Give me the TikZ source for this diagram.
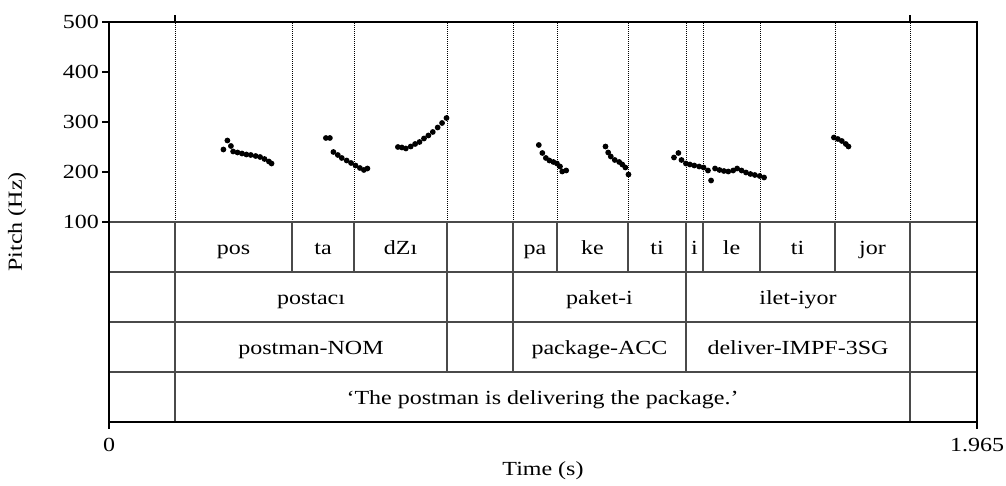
\documentclass[tikz,border=0pt]{standalone}
\usepackage{fontspec}
\setmainfont{Liberation Serif}[FakeStretch=1.2]
\definecolor{tiergray}{HTML}{4A4A4A}

\begin{document}
\begin{tikzpicture}[x=1pt,y=1pt,
  lab/.style={font=\fontsize{20}{22}\selectfont, inner sep=0pt},
  frameline/.style={line width=1.7pt, line cap=rect},
  tierline/.style={draw=tiergray, line width=1.2pt},
  syldots/.style={draw=black, line width=0.7pt, dash pattern=on 1pt off 1pt},
  pitchdot/.style={fill=black}]
\useasboundingbox (0,0) rectangle (1006,486);

% dotted syllable boundaries in the pitch panel
\foreach \x in {175,292,354,447,513,557,628,686,703,760,835,910}
  \draw[syldots] (\x,264) -- (\x,464);

% tiers
\foreach \y in {214,164,114}
  \draw[tierline] (109,\y) -- (977,\y);
\draw[tierline] (109,264) -- (977,264);
\foreach \x in {292,354,447,513,557,628,686,703,760,835}
  \draw[tierline] (\x,264) -- (\x,214);
\foreach \x in {447,513,686}
  \draw[tierline] (\x,214) -- (\x,114);
\foreach \x in {175,910}
  \draw[tierline] (\x,264) -- (\x,64);

% frame, ticks
\draw[frameline] (109,64) rectangle (977,464);
\foreach \x in {175,910}
  \draw[line width=1.2pt] (\x,464) -- (\x,471);
\foreach \y/\hz in {264/100,314/200,364/300,414/400,464/500} {
  \draw[line width=1.2pt] (102,\y) -- (109,\y);
  \node[lab, anchor=base east] (hz\hz) at (99,\y-6.6) {\hz};
}
\draw[line width=1.2pt] (109,64) -- (109,57);
\draw[line width=1.2pt] (977,64) -- (977,57);
\node[lab, anchor=base] (t0) at (109,34) {0};
\node[lab, anchor=base] (tend) at (977,34) {1.965};
\node[lab, anchor=base] (xlab) at (543,10) {Time (s)};
\node[lab, rotate=90] (ylab) at (17,264) {Pitch (Hz)};

% syllables
\foreach \x/\s [count=\i] in {233.5/pos, 323/ta, 400.5/dZı, 535/pa, 592.5/ke,
    657/ti, 694.5/i, 731.5/le, 797.5/ti, 872.5/jor}
  \node[lab, anchor=base] (syl\i) at (\x,231) {\s};
% words and glosses
\node[lab, anchor=base] (postaci) at (311,181) {postacı};
\node[lab, anchor=base] (paketi) at (599.5,181) {paket-i};
\node[lab, anchor=base] (iletiyor) at (798,181) {ilet-iyor};
\node[lab, anchor=base] (glosspostman) at (311,131) {postman-NOM};
\node[lab, anchor=base] (glosspackage) at (599.5,131) {package-ACC};
\node[lab, anchor=base] (glossdeliver) at (798,131) {deliver-IMPF-3SG};
\node[lab, anchor=base] (transl) at (542.5,81) {‘The postman is delivering the package.’};

% pitch track (time in s, F0 in Hz)
\begin{scope}[shift={(109,214)}, x=441.73pt, y=0.5pt]
  \foreach \t/\f in {0.259/245, 0.268/263, 0.276/252, 0.281/241, 0.291/239,
      0.301/237, 0.311/235, 0.321/234, 0.332/232, 0.342/230, 0.352/226,
      0.362/221, 0.368/217,
      0.491/268, 0.500/268, 0.508/240, 0.518/234, 0.527/228, 0.538/223,
      0.548/218, 0.558/213, 0.568/208, 0.577/204, 0.585/207,
      0.654/250, 0.663/249, 0.672/247, 0.683/251, 0.693/256, 0.703/260,
      0.713/267, 0.723/273, 0.733/280, 0.744/289, 0.754/298, 0.764/308,
      0.973/254, 0.981/238, 0.989/228, 0.997/223, 1.006/220, 1.014/217,
      1.021/211, 1.026/201, 1.035/203,
      1.124/251, 1.130/239, 1.136/231, 1.145/224, 1.155/220, 1.162/215,
      1.169/209, 1.176/195,
      1.279/229, 1.289/238, 1.296/224, 1.306/217, 1.315/215, 1.325/213,
      1.336/211, 1.346/209, 1.356/203, 1.363/183, 1.372/207, 1.382/204,
      1.392/202, 1.402/201, 1.413/203, 1.422/207, 1.432/203, 1.442/199,
      1.452/196, 1.462/194, 1.473/192, 1.483/189,
      1.641/269, 1.650/266, 1.659/262, 1.668/256, 1.674/251}
    \fill[pitchdot] (\t,\f) circle[radius=2.9pt];
\end{scope}
\end{tikzpicture}
\end{document}
